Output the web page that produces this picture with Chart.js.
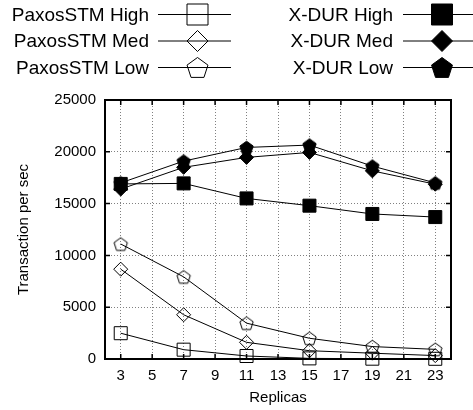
<!DOCTYPE html>
<html>
<head>
<meta charset="utf-8">
<script src="https://cdn.jsdelivr.net/npm/chart.js@4.4.1/dist/chart.umd.min.js"></script>
<style>
  html, body { margin: 0; padding: 0; background: #fff; }
  #wrap { width: 473px; height: 410px; }
</style>
</head>
<body>
<div id="wrap"><canvas id="myChart"></canvas></div>
<script>
const replicas = [3, 7, 11, 15, 19, 23];
const xTicks = [3, 5, 7, 9, 11, 13, 15, 17, 19, 21, 23];
const yTicks = [0, 5000, 10000, 15000, 20000, 25000];

const paxosHigh = [2490, 900, 290, 60, 30, 20];
const paxosMed = [8670, 4270, 1610, 800, 560, 330];
const paxosLow = [11100, 7930, 3460, 2000, 1200, 930];
const xdurHigh = [16900, 16950, 15500, 14800, 14000, 13700];
const xdurMed = [16400, 18500, 19460, 19940, 18160, 16870];
const xdurLow = [17000, 19100, 20420, 20650, 18620, 17000];

const names = ["PaxosSTM High", "PaxosSTM Med", "PaxosSTM Low", "X-DUR High", "X-DUR Med", "X-DUR Low"];
const shapes = ["square", "diamond", "pentagon", "square", "diamond", "pentagon"];
const filled = [false, false, false, true, true, true];
const values = [paxosHigh, paxosMed, paxosLow, xdurHigh, xdurMed, xdurLow];

// draws one marker shape on a context
function drawShape(ctx, kind, x, y, r, fill) {
  ctx.beginPath();
  if (kind === "square") {
    ctx.rect(x - r, y - r, 2 * r, 2 * r);
  } else if (kind === "diamond") {
    ctx.moveTo(x, y - r);
    ctx.lineTo(x + r, y);
    ctx.lineTo(x, y + r);
    ctx.lineTo(x - r, y);
  } else {
    for (let i = 0; i < 5; i++) {
      const a = -Math.PI / 2 + i * 2 * Math.PI / 5;
      const px = x + r * Math.cos(a), py = y + r * Math.sin(a);
      if (i === 0) ctx.moveTo(px, py); else ctx.lineTo(px, py);
    }
  }
  ctx.closePath();
  if (fill) { ctx.fillStyle = "#000"; ctx.fill(); }
  ctx.strokeStyle = "#000";
  ctx.lineWidth = 1;
  ctx.stroke();
}

function pentagonImage(r, fill) {
  const c = document.createElement("canvas");
  const s = Math.ceil(2 * r + 3);
  c.width = s; c.height = s;
  drawShape(c.getContext("2d"), "pentagon", s / 2, s / 2 + r * 0.1, r, fill);
  return c;
}

function pointOpts(i) {
  if (shapes[i] === "square") return { pointStyle: "rect", pointRadius: 9.2 };
  if (shapes[i] === "diamond") return { pointStyle: "rectRot", pointRadius: 7 };
  return { pointStyle: pentagonImage(7, filled[i]), pointRadius: 7 };
}

const datasets = values.map((vals, i) => Object.assign({
  label: names[i],
  data: replicas.map((r, j) => ({ x: r, y: vals[j] })),
  borderColor: "#000",
  borderWidth: 1,
  pointBorderColor: "#000",
  pointBorderWidth: 1,
  pointBackgroundColor: filled[i] ? "#000" : "rgba(0,0,0,0)",
  tension: 0,
  clip: false
}, pointOpts(i)));

const framePlugin = {
  id: "frame",
  beforeDatasetsDraw(chart) {
    const { ctx, chartArea: a, scales } = chart;
    ctx.save();
    ctx.strokeStyle = "#000";
    ctx.lineWidth = 1.5;
    ctx.beginPath();
    yTicks.forEach(v => {
      const y = scales.y.getPixelForValue(v);
      ctx.moveTo(a.left, y); ctx.lineTo(a.left + 5, y);
      ctx.moveTo(a.right, y); ctx.lineTo(a.right - 5, y);
    });
    xTicks.forEach(v => {
      const x = scales.x.getPixelForValue(v);
      ctx.moveTo(x, a.bottom); ctx.lineTo(x, a.bottom - 5);
      ctx.moveTo(x, a.top); ctx.lineTo(x, a.top + 5);
    });
    ctx.stroke();
    ctx.lineWidth = 2;
    ctx.strokeRect(a.left, a.top, a.right - a.left, a.bottom - a.top);
    ctx.restore();
  },
  afterDraw(chart) {
    const ctx = chart.ctx;
    const cols = [{ text: 149, l1: 158, l2: 231, m: 197.5 }, { text: 393, l1: 403, l2: 473, m: 442 }];
    const rows = [14.5, 41, 67.5];
    ctx.save();
    ctx.font = "19px 'Liberation Sans', Arial, sans-serif";
    ctx.textAlign = "right";
    ctx.textBaseline = "middle";
    names.forEach((n, i) => {
      const c = cols[Math.floor(i / 3)], y = rows[i % 3];
      ctx.fillStyle = "#000";
      ctx.fillText(n, c.text, y + 1);
      ctx.beginPath();
      ctx.moveTo(c.l1, y); ctx.lineTo(c.l2, y);
      ctx.strokeStyle = "#000"; ctx.lineWidth = 1;
      ctx.stroke();
      const r = shapes[i] === "pentagon" ? 11 : 10.5;
      drawShape(ctx, shapes[i], c.m, shapes[i] === "pentagon" ? y + 1 : y, r, filled[i]);
    });
    ctx.restore();
  }
};

const tickFont = { family: "'Liberation Sans', Arial, sans-serif", size: 15 };

const ctx = document.getElementById("myChart").getContext("2d");
const myChart = new Chart(ctx, {
  type: "line",
  data: { datasets: datasets },
  options: {
    responsive: true,
    maintainAspectRatio: false,
    animation: false,
    events: [],
    layout: { padding: { top: 100, right: 22, left: 0, bottom: 0 } },
    plugins: { legend: { display: false }, tooltip: { enabled: false } },
    scales: {
      x: {
        type: "linear",
        min: 2,
        max: 24,
        afterBuildTicks: scale => { scale.ticks = xTicks.map(v => ({ value: v })); },
        afterFit: scale => { scale.height = 51; },
        grid: { color: "#808080", lineWidth: 1, drawTicks: false },
        border: { display: false, dash: [1, 2] },
        ticks: { color: "#000", font: tickFont, padding: 8, maxRotation: 0, callback: v => String(v) },
        title: { display: true, text: "Replicas", color: "#000", font: tickFont, padding: { top: 0, bottom: 3 } }
      },
      y: {
        min: 0,
        max: 25000,
        afterBuildTicks: scale => { scale.ticks = yTicks.map(v => ({ value: v })); },
        afterFit: scale => { scale.width = 105; },
        grid: { color: "#808080", lineWidth: 1, drawTicks: false },
        border: { display: false, dash: [1, 2] },
        ticks: { color: "#000", font: tickFont, padding: 9, callback: v => String(v) },
        title: { display: true, text: "Transaction per sec", color: "#000", font: tickFont, padding: { top: 15, bottom: 0 } }
      }
    }
  },
  plugins: [framePlugin]
});
</script>
</body>
</html>
